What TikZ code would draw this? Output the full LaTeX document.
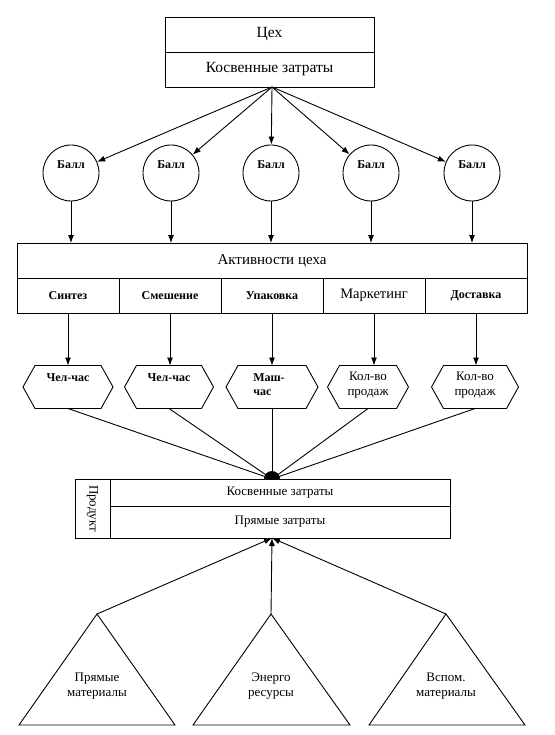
\documentclass[tikz,border=0pt]{standalone}
\usepackage{fontspec}
\setmainfont{Liberation Serif}
\usetikzlibrary{arrows.meta}
\newcommand{\fsz}[1]{\fontsize{#1}{#1}\selectfont}
\begin{document}
\begin{tikzpicture}[x=1pt,y=-1pt,line width=0.9pt,
  box/.style={draw, rectangle, inner sep=0pt, outer sep=0pt, anchor=north west},
  circ/.style={draw, circle, minimum size=56pt, inner sep=0pt},
  hexbox/.style={rectangle, inner sep=0pt, outer sep=0pt, minimum height=43pt},
  txt/.style={inner sep=0pt, align=center},
  arr/.style={-{Latex[length=8pt,width=6pt]}},
  big/.style={font=\fsz{15.5}},
  act/.style={font=\fsz{15}},
  mid/.style={font=\fsz{13}},
  midb/.style={font=\fsz{12}\bfseries}
]
\useasboundingbox (0,0) rectangle (554,735);

% top box
\node[box, big, minimum width=209pt, minimum height=35pt] (ceh) at (165,17) {Цех};
\node[box, big, minimum width=209pt, minimum height=35pt] (kz) at (165,52) {Косвенные затраты};
\coordinate (src) at (272,87);

% circles
\foreach \n/\x in {b1/71,b2/171,b3/271,b4/371,b5/472}{
  \node[circ] (\n) at (\x,173) {};
  \node[txt, midb] (\n t) at (\x,165) {Балл};
  \draw[arr] (src) -- (\n);
}

% activity box
\node[box, act, minimum width=510pt, minimum height=35pt] (act) at (17,243) {Активности цеха};
\node[box, midb, minimum width=102pt, minimum height=35pt] (c1) at (17,278) {Синтез};
\node[box, midb, minimum width=102pt, minimum height=35pt] (c2) at (119,278) {Смешение};
\node[box, midb, minimum width=102pt, minimum height=35pt] (c3) at (221,278) {Упаковка};
\node[box, font=\fsz{14.5}, minimum width=102pt, minimum height=35pt] (c4) at (323,278) {Маркетинг};
\node[box, midb, minimum width=102pt, minimum height=35pt] (c5) at (425,278) {Доставка};

\foreach \n in {b1,b2,b3,b4,b5}{
  \draw[arr] (\n.south) -- (\n.south |- act.north);
}

% hexagons
\node[hexbox, minimum width=90pt] (h1) at (68,387) {};
\node[hexbox, minimum width=89pt] (h2) at (169,387) {};
\node[hexbox, minimum width=92pt] (h3) at (272,387) {};
\node[hexbox, minimum width=81pt] (h4) at (368,387) {};
\node[hexbox, minimum width=87pt] (h5) at (475,387) {};
\foreach \n in {h1,h2,h3,h4,h5}{
  \draw (\n.west) -- ([xshift=12pt]\n.north west) -- ([xshift=-12pt]\n.north east)
    -- (\n.east) -- ([xshift=-12pt]\n.south east) -- ([xshift=12pt]\n.south west) -- cycle;
}
\foreach \c/\h in {c1/h1,c2/h2,c3/h3,c4/h4,c5/h5}{
  \draw[arr] (\c.south) -- (\c.south |- \h.north);
}
\node[txt, midb] (h1t) at (68,378) {Чел-час};
\node[txt, midb] (h2t) at (169,378) {Чел-час};
\node[txt, midb, align=left] (h3t) at (269,385) {Маш-\\[2pt]час};
\node[txt, mid] (h4t) at (368,385) {Кол-во\\[2pt]продаж};
\node[txt, mid] (h5t) at (475,385) {Кол-во\\[2pt]продаж};

% product box
\coordinate (pin) at (272,479);
\coordinate (pout) at (272,538);
\foreach \n in {h1,h2,h3,h4,h5}{
  \draw (\n.south) -- (pin);
}
\fill (pin) ++(-8,0) arc[start angle=180, end angle=360, radius=8] -- cycle;
\node[box, minimum width=35pt, minimum height=59pt] (prod) at (75,479) {};
\node[txt, mid, rotate=-90] (prodt) at (prod.center) {Продукт};
\node[box, mid, minimum width=340pt, minimum height=27pt] (pk) at (110,479) {Косвенные затраты};
\node[box, mid, minimum width=340pt, minimum height=32pt] (pp) at (110,506) {Прямые затраты};

% triangles
\coordinate (t1) at (97,614);
\coordinate (t2) at (271,614);
\coordinate (t3) at (446,614);
\draw (t1) -- (19,725) -- (175,725) -- cycle;
\draw (t2) -- (193,725) -- (350,725) -- cycle;
\draw (t3) -- (369,725) -- (525,725) -- cycle;
\foreach \t in {t1,t2,t3}{
  \draw[arr] (\t) -- (pout);
}
\node[txt, mid] (t1t) at (97,686) {Прямые\\[2pt]материалы};
\node[txt, mid] (t2t) at (271,686) {Энерго\\[2pt]ресурсы};
\node[txt, mid] (t3t) at (446,686) {Вспом.\\[2pt]материалы};
\end{tikzpicture}
\end{document}
